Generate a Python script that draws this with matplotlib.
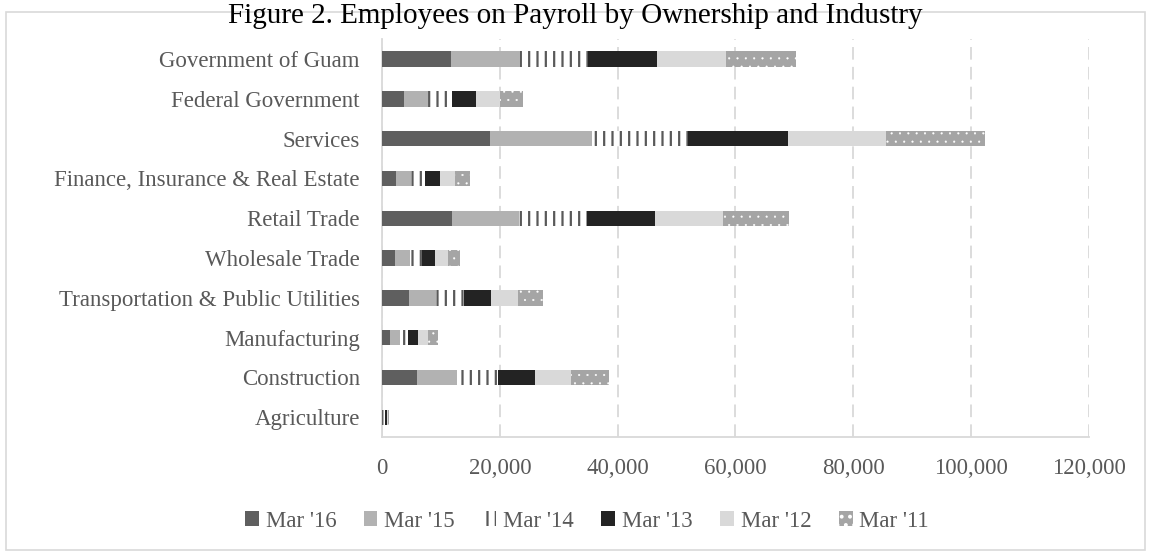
import numpy as np
import matplotlib.pyplot as plt
from matplotlib.patches import Rectangle, Patch
from matplotlib.ticker import FuncFormatter

categories = [
    "Government of Guam",
    "Federal Government",
    "Services",
    "Finance, Insurance & Real Estate",
    "Retail Trade",
    "Wholesale Trade",
    "Transportation & Public Utilities",
    "Manufacturing",
    "Construction",
    "Agriculture",
]

series = ["Mar '16", "Mar '15", "Mar '14", "Mar '13", "Mar '12", "Mar '11"]

mar16 = [11700, 3750, 18300, 2400, 11800, 2150, 4600, 1400, 5850, 190]
mar15 = [11700, 4050, 17300, 2550, 11500, 2550, 4500, 1700, 6900, 190]
mar14 = [11500, 4050, 16400, 2400, 11550, 2150, 4800, 1300, 6950, 190]
mar13 = [11700, 4050, 16950, 2550, 11450, 2200, 4650, 1700, 6200, 190]
mar12 = [11850, 4050, 16600, 2550, 11550, 2150, 4500, 1700, 6100, 190]
mar11 = [11850, 3900, 16800, 2550, 11300, 2100, 4300, 1700, 6600, 190]

values = [mar16, mar15, mar14, mar13, mar12, mar11]

# fill, hatch colour, hatch, hatch width
styles = [
    ("#5f5f5f", "#5f5f5f", None, 1.0),
    ("#b2b2b2", "#b2b2b2", None, 1.0),
    ("white", "#595959", "||", 1.6),
    ("#232323", "#232323", None, 1.0),
    ("#d9d9d9", "#d9d9d9", None, 1.0),
    ("#a5a5a5", "white", "..", 0.3),
]

plt.rcParams["font.family"] = ["Liberation Serif", "DejaVu Serif"]
plt.rcParams["hatch.linewidth"] = 1.6

fig = plt.figure(figsize=(11.51, 5.52), dpi=100)
ax = fig.add_axes([0.332, 0.208, 0.614, 0.721])

fig.patches.append(Rectangle((0.005, 0.004), 0.99, 0.974, transform=fig.transFigure,
                             fill=False, edgecolor="#d9d9d9", linewidth=1.2))

y = np.arange(len(categories))[::-1]
left = np.zeros(len(categories))
for name, vals, (fc, ec, hatch, hw) in zip(series, values, styles):
    bars = ax.barh(y, vals, left=left, height=0.39, color=fc, edgecolor=ec,
                   hatch=hatch, linewidth=0, label=name, zorder=3)
    for b in bars:
        if hasattr(b, "set_hatch_linewidth"):
            b.set_hatch_linewidth(hw)
    left += np.array(vals)

ax.set_xlim(0, 120000)
ax.set_ylim(-0.5, len(categories) - 0.5)
ax.set_xticks(np.arange(0, 120001, 20000))
ax.xaxis.set_major_formatter(FuncFormatter(lambda v, p: f"{int(v):,}"))
ax.set_yticks(y)
ax.set_yticklabels(categories)
ax.tick_params(length=0, colors="#595959")
ax.tick_params(axis="y", labelsize=16.5, pad=16)
ax.tick_params(axis="x", labelsize=16.5, pad=15)

ax.grid(axis="x", color="#d9d9d9", linestyle=(0, (7, 4)), linewidth=1.3, zorder=0)
for s in ["top", "right"]:
    ax.spines[s].set_visible(False)
for s in ["left", "bottom"]:
    ax.spines[s].set_color("#d9d9d9")
    ax.spines[s].set_linewidth(1.3)

handles = []
for fc, ec, h, hw in styles:
    p = Patch(facecolor=fc, edgecolor=ec, hatch=h, linewidth=0)
    if hasattr(p, "set_hatch_linewidth"):
        p.set_hatch_linewidth(hw)
    handles.append(p)
fig.legend(handles, series, loc="center", bbox_to_anchor=(0.51, 0.056), ncol=6,
           frameon=False, fontsize=16.5, handlelength=0.6, handleheight=0.6,
           handletextpad=0.3, columnspacing=1.2, labelcolor="#595959")

fig.text(0.5, 1 - 23 / 552, "Figure 2. Employees on Payroll by Ownership and Industry",
         ha="center", va="baseline", fontsize=21, color="black")

fig.savefig("out.png", dpi=100)
